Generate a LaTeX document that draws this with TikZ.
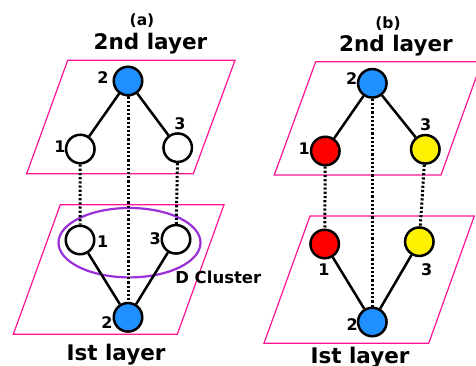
\documentclass[tikz,border=0pt]{standalone}
\usepackage{fontspec}
\setmainfont{DejaVu Sans}
\usepackage{tikz}

\definecolor{layerpink}{HTML}{FF1493}
\definecolor{clusterpurple}{HTML}{9B30D8}
\definecolor{nodeblue}{HTML}{1E90FF}

\tikzset{
  vtx/.style={circle,draw=black,line width=2.5pt,minimum size=28.5pt,inner sep=0pt,fill=white},
  num/.style={font=\fontsize{16}{18}\selectfont\bfseries,inner sep=0pt},
  panellbl/.style={font=\fontsize{15.5}{18}\selectfont\bfseries,inner sep=0pt,anchor=base},
  layername/.style={font=\fontsize{21.5}{24}\selectfont\bfseries,inner sep=0pt,anchor=base},
  layer/.style={draw=layerpink,line width=1.2pt},
  link/.style={line width=2.5pt},
  interlink/.style={line width=3pt,dash pattern=on 2.2pt off 2pt},
}

\begin{document}
\begin{tikzpicture}[x=1pt,y=-1pt]
    \useasboundingbox (0,0) rectangle (476,366);
    % layers
    \draw[layer] (67.7,60.3) -- (235,60.3) -- (193.3,173.7) -- (26.7,173.7) -- cycle;
    \draw[layer] (60.3,204.7) -- (224,204.7) -- (177.3,334.3) -- (13.3,334.3) -- cycle;
    \draw[layer] (315.7,61.7) -- (481.7,61.7) -- (441,175) -- (274.3,175) -- cycle;
    \draw[layer] (310,216) -- (474.3,216) -- (428.7,343.3) -- (264,343.3) -- cycle;
    \draw[clusterpurple,line width=2.2pt] (129.5,242.7) ellipse [x radius=71pt,y radius=34.7pt];

    % (a)
    \node[panellbl] (tita) at (142,25.7) {(a)};
    \node[layername] (upa) at (150.5,50) {2nd layer};
    \node[layername] (lowa) at (116,360) {Ist layer};
    \node[vtx,fill=nodeblue] (a2) at (128,81) {};
    \node[vtx] (a1) at (80.3,149) {};
    \node[vtx] (a3) at (177.7,147.7) {};
    \node[vtx] (A1) at (80,240) {};
    \node[vtx] (A3) at (176,239.3) {};
    \node[vtx,fill=nodeblue] (A2) at (128,317.3) {};
    \node[num] (la2) at (103,78) {2};
    \node[num] (la1) at (60,147) {1};
    \node[num] (la3) at (180,124) {3};
    \node[num] (lA1) at (102.7,242) {1};
    \node[num] (lA3) at (155.3,239) {3};
    \node[num] (lA2) at (107,322.7) {2};
    \node[font=\fontsize{16.5}{18}\selectfont\bfseries,inner sep=0pt] (dcl) at (218.3,277.3) {D Cluster};
    \draw[link] (a2) -- (a1);
    \draw[link] (a2) -- (a3);
    \draw[link] (A1) -- (A2);
    \draw[link] (A3) -- (A2);
    \draw[interlink] (a1) -- (A1);
    \draw[interlink] (a2) -- (A2);
    \draw[interlink] (a3) -- (A3);

    % (b)
    \node[panellbl] (titb) at (388,28.3) {(b)};
    \node[layername] (upb) at (396,51.7) {2nd layer};
    \node[layername] (lowb) at (360,363) {Ist layer};
    \node[vtx,fill=nodeblue] (b2) at (372.3,83.3) {};
    \node[vtx,fill=red] (b1) at (325.3,151) {};
    \node[vtx,fill=yellow] (b3) at (425.3,149.3) {};
    \node[vtx,fill=red] (B1) at (324.7,244) {};
    \node[vtx,fill=yellow] (B3) at (419.3,241.7) {};
    \node[vtx,fill=nodeblue] (B2) at (372.3,322) {};
    \node[num] (lb2) at (351.7,79) {2};
    \node[num] (lb1) at (304.3,148.3) {1};
    \node[num] (lb3) at (425.7,125) {3};
    \node[num] (lB1) at (324,269.3) {1};
    \node[num] (lB3) at (426.7,270) {3};
    \node[num] (lB2) at (352.3,325) {2};
    \draw[link] (b2) -- (b1);
    \draw[link] (b2) -- (b3);
    \draw[link] (B1) -- (B2);
    \draw[link] (B3) -- (B2);
    \draw[interlink] (b1) -- (B1);
    \draw[interlink] (b2) -- (B2);
    \draw[interlink] (b3) -- (B3);
\end{tikzpicture}
\end{document}
